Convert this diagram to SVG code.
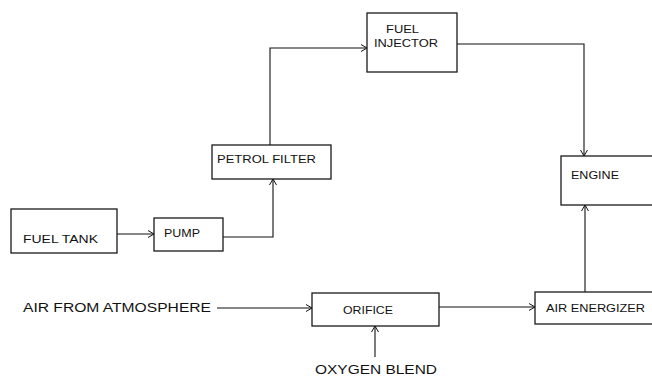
<svg xmlns="http://www.w3.org/2000/svg" width="652" height="377" viewBox="0 0 652 377">
<style>
.box{fill:#fff;stroke:#1a1a1a;stroke-width:1.3}
.lbl{font-family:"Liberation Sans",Arial,sans-serif;font-size:11px;fill:#111}
.out{font-family:"Liberation Sans",Arial,sans-serif;font-size:12px;fill:#111}
.con{fill:none;stroke:#111;stroke-width:1.1}
</style>
<defs>
<marker id="arr" markerUnits="userSpaceOnUse" markerWidth="10" markerHeight="10" refX="7" refY="4" orient="auto">
<path d="M1,0.5 L7,4 L1,7.5" fill="none" stroke="#111" stroke-width="1"/>
</marker>
</defs>
<rect width="652" height="377" fill="#fff"/>
<g id="connectors">
<path class="con" d="M117,234 H154" marker-end="url(#arr)"/>
<path class="con" d="M223,237 H273 V179" marker-end="url(#arr)"/>
<path class="con" d="M270,145 V48 H367" marker-end="url(#arr)"/>
<path class="con" d="M457,44 H584 V156" marker-end="url(#arr)"/>
<path class="con" d="M217,308 H312" marker-end="url(#arr)"/>
<path class="con" d="M439,307 H535" marker-end="url(#arr)"/>
<path class="con" d="M585,292 V205" marker-end="url(#arr)"/>
<path class="con" d="M375,357 V326" marker-end="url(#arr)"/>
</g>
<g id="fuel-tank">
<rect class="box" x="11" y="209" width="106" height="44"/>
<text class="lbl" x="23" y="243" textLength="75" lengthAdjust="spacingAndGlyphs">FUEL TANK</text>
</g>
<g id="pump">
<rect class="box" x="154" y="218" width="69" height="33"/>
<text class="lbl" x="164" y="237" textLength="36" lengthAdjust="spacingAndGlyphs">PUMP</text>
</g>
<g id="petrol-filter">
<rect class="box" x="212" y="145" width="119" height="34"/>
<text class="lbl" x="217" y="163" textLength="99" lengthAdjust="spacingAndGlyphs">PETROL FILTER</text>
</g>
<g id="fuel-injector">
<rect class="box" x="367" y="13" width="90" height="59"/>
<text class="lbl" x="386" y="33" textLength="33" lengthAdjust="spacingAndGlyphs">FUEL</text>
<text class="lbl" x="374" y="47" textLength="64" lengthAdjust="spacingAndGlyphs">INJECTOR</text>
</g>
<g id="engine">
<rect class="box" x="561" y="156" width="95" height="49"/>
<text class="lbl" x="571" y="179" textLength="48" lengthAdjust="spacingAndGlyphs">ENGINE</text>
</g>
<g id="orifice">
<rect class="box" x="312" y="293" width="127" height="33"/>
<text class="lbl" x="343" y="314" textLength="50" lengthAdjust="spacingAndGlyphs">ORIFICE</text>
</g>
<g id="air-energizer">
<rect class="box" x="535" y="292" width="121" height="32"/>
<text class="lbl" x="546" y="312" textLength="99" lengthAdjust="spacingAndGlyphs">AIR ENERGIZER</text>
</g>
<g id="air-from-atmosphere">
<text class="out" x="23" y="312" textLength="188" lengthAdjust="spacingAndGlyphs">AIR FROM ATMOSPHERE</text>
</g>
<g id="oxygen-blend">
<text class="out" x="315" y="373.5" textLength="122" lengthAdjust="spacingAndGlyphs">OXYGEN BLEND</text>
</g>
</svg>
